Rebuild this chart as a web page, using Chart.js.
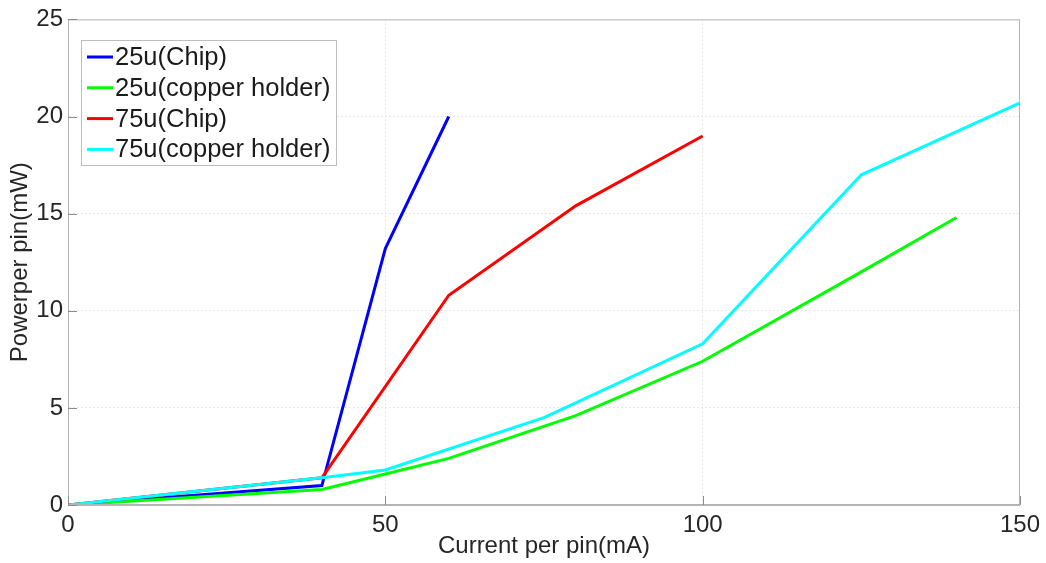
<!DOCTYPE html>
<html><head><meta charset="utf-8">
<script src="https://cdn.jsdelivr.net/npm/chart.js@4.4.0/dist/chart.umd.min.js"></script>
<style>html,body{margin:0;padding:0;background:#fff;}</style>
</head><body>
<canvas id="c" width="1046" height="563"></canvas>
<script>
// ---- data ----
const seriesNames = ['25u(Chip)', '25u(copper holder)', '75u(Chip)', '75u(copper holder)'];
const seriesColors = ['#0000ff', '#00ff00', '#ff0000', '#00ffff'];
const chip25X = [0, 40, 50, 60];
const chip25Y = [0, 1.0, 13.2, 20.0];
const copper25X = [0, 40, 50, 60, 80, 100, 125, 140];
const copper25Y = [0, 0.8, 1.6, 2.4, 4.6, 7.4, 12.0, 14.8];
const chip75X = [0, 40, 60, 80, 100];
const chip75Y = [0, 1.4, 10.8, 15.4, 19.0];
const copper75X = [0, 40, 50, 75, 100, 125, 150];
const copper75Y = [0, 1.4, 1.8, 4.5, 8.3, 17.0, 20.7];
const xTicks = [0, 50, 100, 150];
const yTicks = [0, 5, 10, 15, 20, 25];
const xTitle = 'Current per pin(mA)';
const yTitle = 'Powerper pin(mW)';

const seriesX = [chip25X, copper25X, chip75X, copper75X];
const seriesY = [chip25Y, copper25Y, chip75Y, copper75Y];
const drawOrder = [3, 2, 1, 0]; // cyan on top

const FONT = "'Liberation Sans', Arial, sans-serif";
const TXT = '#262626';

const datasets = seriesNames.map((name, i) => ({
  label: name,
  data: seriesX[i].map((x, j) => ({x: x, y: seriesY[i][j]})),
  borderColor: seriesColors[i],
  backgroundColor: seriesColors[i],
  borderWidth: 3,
  pointRadius: 0,
  tension: 0,
  fill: false,
  order: drawOrder[i]
}));

const framePlugin = {
  id: 'frame',
  afterDatasetsDraw(chart) {
    const {ctx, chartArea: a, scales} = chart;
    ctx.save();
    // box
    ctx.strokeStyle = '#b4b4b4';
    ctx.lineWidth = 1;
    ctx.strokeRect(a.left + 0.5, a.top + 0.5, a.right - a.left - 1, a.bottom - a.top - 1);
    // inward ticks
    ctx.strokeStyle = '#8c8c8c';
    xTicks.forEach(v => {
      const px = Math.round(scales.x.getPixelForValue(v)) + 0.5;
      ctx.beginPath(); ctx.moveTo(px, a.bottom); ctx.lineTo(px, a.bottom - 9); ctx.stroke();
    });
    yTicks.forEach(v => {
      const py = Math.round(scales.y.getPixelForValue(v)) + 0.5;
      ctx.beginPath(); ctx.moveTo(a.left, py); ctx.lineTo(a.left + 9, py); ctx.stroke();
    });
    // legend
    const bx = 81, by = 40, bw = 255, bh = 125;
    ctx.fillStyle = '#ffffff';
    ctx.fillRect(bx, by, bw, bh);
    ctx.strokeStyle = '#bdbdbd';
    ctx.strokeRect(bx + 0.5, by + 0.5, bw, bh);
    ctx.font = '25.5px ' + FONT;
    ctx.textBaseline = 'middle';
    ctx.textAlign = 'left';
    chart.data.datasets.forEach((ds, i) => {
      const y = by + 17 + i * 30.8;
      ctx.strokeStyle = ds.borderColor;
      ctx.lineWidth = 3;
      ctx.beginPath(); ctx.moveTo(87, y); ctx.lineTo(113, y); ctx.stroke();
      ctx.fillStyle = '#1a1a1a';
      ctx.fillText(ds.label, 115, y + 1);
    });
    ctx.restore();
  }
};

new Chart(document.getElementById('c'), {
  type: 'line',
  data: {datasets},
  options: {
    responsive: false,
    animation: false,
    events: [],
    layout: {padding: {top: 14, right: 23, left: 0, bottom: 0}},
    plugins: {legend: {display: false}, tooltip: {enabled: false}},
    scales: {
      x: {
        type: 'linear', min: 0, max: 150,
        afterFit: s => { s.height = 58; },
        afterBuildTicks: s => { s.ticks = xTicks.map(v => ({value: v})); },
        ticks: {color: TXT, font: {family: FONT, size: 24}, padding: 6, maxRotation: 0},
        grid: {color: '#e8e8e8', drawTicks: false, lineWidth: 1},
        border: {color: '#b4b4b4', dash: [2, 2]},
        title: {display: true, text: xTitle, color: TXT, font: {family: FONT, size: 24}, padding: {top: 0, bottom: 2}}
      },
      y: {
        type: 'linear', min: 0, max: 25,
        afterFit: s => { s.width = 68; },
        afterBuildTicks: s => { s.ticks = yTicks.map(v => ({value: v})); },
        ticks: {color: TXT, font: {family: FONT, size: 24}, padding: 5},
        grid: {color: '#e8e8e8', drawTicks: false, lineWidth: 1},
        border: {color: '#b4b4b4', dash: [2, 2]},
        title: {display: true, text: yTitle, color: TXT, font: {family: FONT, size: 24}, padding: {top: 6, bottom: 0}}
      }
    }
  },
  plugins: [framePlugin]
});
</script>
</body></html>
